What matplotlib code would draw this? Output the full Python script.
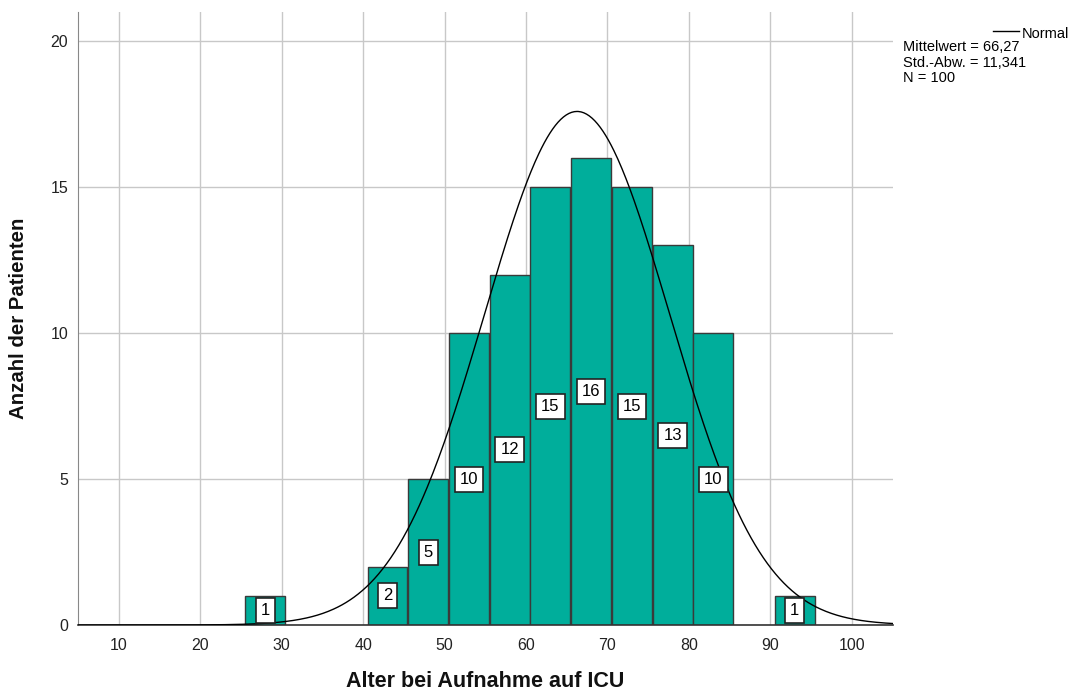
import numpy as np
import matplotlib
matplotlib.use("Agg")
import matplotlib.pyplot as plt

plt.rcParams['font.family'] = ['Liberation Sans', 'DejaVu Sans']

# Data
bin_centers = [28, 43, 48, 53, 58, 63, 68, 73, 78, 83, 93]
counts = [1, 2, 5, 10, 12, 15, 16, 15, 13, 10, 1]
bin_width = 4.9
mean_val = 66.27
sd_val = 11.341
n_val = 100
x_ticks = [10, 20, 30, 40, 50, 60, 70, 80, 90, 100]
y_ticks = [0, 5, 10, 15, 20]

fig = plt.figure(figsize=(10.76, 6.96), dpi=100)
ax = fig.add_axes([0.0725, 0.102, 0.757, 0.881])

ax.set_xlim(5, 105)
ax.set_ylim(0, 21)
ax.set_xticks(x_ticks)
ax.set_yticks(y_ticks)
ax.grid(True, color='#c8c8c8', linewidth=1.0)
ax.set_axisbelow(True)

bar_color = '#00AE9B'
ax.bar(bin_centers, counts, width=bin_width, color=bar_color,
       edgecolor='#3a3a3a', linewidth=1.0, zorder=2)

# normal curve
xs = np.linspace(5, 105, 600)
ys = n_val * 5 / (sd_val * np.sqrt(2 * np.pi)) * np.exp(-0.5 * ((xs - mean_val) / sd_val) ** 2)
ax.plot(xs, ys, color='black', linewidth=1.0, zorder=3)

# labels
for c, v in zip(bin_centers, counts):
    ax.text(c, v / 2, str(v), ha='center', va='center', fontsize=12,
            zorder=4,
            bbox=dict(boxstyle='square,pad=0.3', facecolor='white',
                      edgecolor='#222222', linewidth=1.2))

for s in ['top', 'right']:
    ax.spines[s].set_visible(False)
ax.spines['left'].set_color('#888888')
ax.spines['bottom'].set_color('#333333')
ax.spines['bottom'].set_linewidth(1.2)
ax.tick_params(axis='both', length=0, labelsize=11.5, colors='#222222')
ax.tick_params(axis='x', pad=9)
ax.tick_params(axis='y', pad=7)

ax.set_xlabel('Alter bei Aufnahme auf ICU', fontsize=15.5, fontweight='bold',
              color='#111111', labelpad=13)
ax.set_ylabel('Anzahl der Patienten', fontsize=14.7, fontweight='bold',
              color='#111111', labelpad=16)

# legend area
fig.add_artist(plt.Line2D([993 / 1076, 1019 / 1076], [1 - 31 / 696, 1 - 31 / 696],
                          color='black', linewidth=1.0))
fig.text(1022 / 1076, 1 - 34 / 696, 'Normal', fontsize=10.5, va='center', ha='left')
fig.text(903 / 1076, 1 - 40 / 696,
         'Mittelwert = 66,27\nStd.-Abw. = 11,341\nN = 100',
         fontsize=10.5, va='top', ha='left', linespacing=1.15)

fig.savefig('out.png', dpi=100)
